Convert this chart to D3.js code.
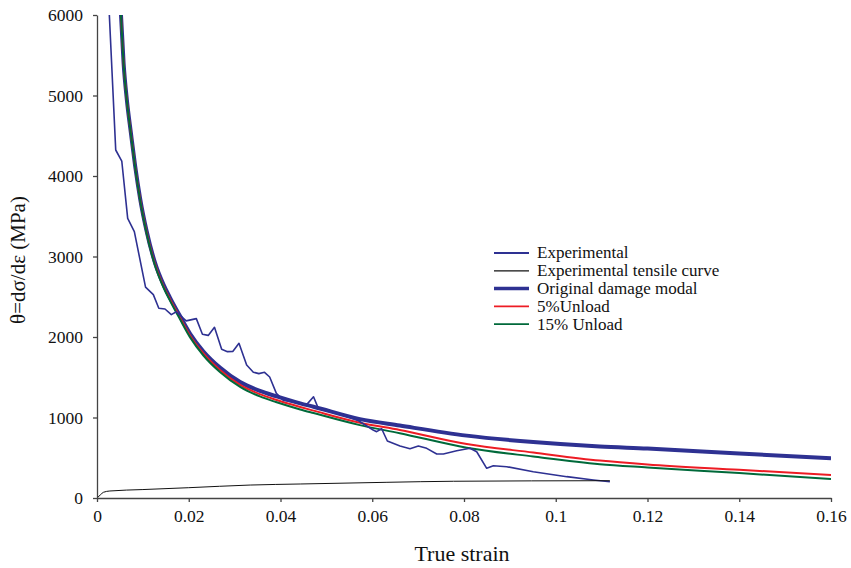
<!DOCTYPE html>
<html>
<head>
<meta charset="utf-8">
<script src="https://cdn.jsdelivr.net/npm/d3@7"></script>
<style>
  body { margin: 0; background: #fff; }
  svg text { font-family: 'Liberation Serif', 'Times New Roman', serif; fill: #111; }
</style>
</head>
<body>
<script>
// strain values and theta (MPa)
var expStrain = [0.00269,0.00408,0.0054,0.00669,0.00814,0.01058,0.01228,0.01347,0.01482,0.01620,0.01729,0.01943,0.02165,0.02298,0.02425,0.02561,0.02717,0.02844,0.02964,0.03095,0.03262,0.03408,0.03528,0.03652,0.03764,0.03910,0.0406,0.0457,0.0472,0.04824,0.053,0.057,0.0602,0.06096,0.06205,0.06329,0.06605,0.06823,0.07005,0.07187,0.07405,0.0755,0.07841,0.08131,0.08277,0.08495,0.0864,0.0893,0.0951,0.1024,0.1082,0.1118];
var expTheta  = [6000,4323,4186,3474,3308,2620,2526,2357,2348,2278,2314,2200,2228,2035,2020,2120,1847,1818,1822,1922,1652,1563,1545,1561,1503,1300,1215,1160,1258,1114,1040,960,845,824,860,708,645,612,645,617,547,547,588,617,575,369,401,389,327,265,224,202];

var tenStrain = [0,0.0007,0.0014,0.0028,0.01,0.02,0.0334,0.0443,0.0632,0.0777,0.1118];
var tenTheta  = [0,37,71,87,105,128,161,174,195,208,215];

var modStrain = [0.00523,0.0058,0.0065,0.0074,0.0083,0.0094,0.0108,0.0126,0.0145,0.0159,0.0181,0.0203,0.0232,0.0268,0.0312,0.0355,0.039,0.0443,0.0472,0.0573,0.066,0.0806,0.0951,0.1096,0.12,0.14,0.16];
var origTheta  = [6000,5400,4950,4530,4130,3720,3320,2930,2650,2490,2260,2040,1820,1620,1440,1330,1265,1176,1134,980,900,775,695,640,615,552,494];
var unload5    = [6000,5395,4945,4522,4120,3708,3305,2912,2630,2470,2240,2015,1795,1590,1405,1290,1220,1130,1085,935,845,670,565,465,416,350,285];
var unload15   = [6000,5390,4940,4515,4112,3698,3292,2898,2615,2452,2220,1995,1770,1565,1380,1262,1192,1100,1055,905,805,625,515,420,380,310,236];

var seriesNames = ["Experimental","Experimental tensile curve","Original damage modal","5%Unload","15% Unload"];
var seriesColors = ["#2e3192","#111111","#2e3192","#ed1c24","#00693a"];
var seriesWidths = [1.6,1,4,2,2];

var xTicks = [0,0.02,0.04,0.06,0.08,0.1,0.12,0.14,0.16];
var yTicks = [0,1000,2000,3000,4000,5000,6000];

var width = 851, height = 568;
var margin = {left: 97, right: 20, top: 15, bottom: 70};
var serif = "'Liberation Serif', 'Times New Roman', serif";

var svg = d3.select("body").append("svg")
  .attr("width", width).attr("height", height);

var x = d3.scaleLinear().domain([0, 0.16]).range([margin.left, 831]);
var y = d3.scaleLinear().domain([0, 6000]).range([498, margin.top]);

svg.append("clipPath").attr("id", "plotclip")
  .append("rect")
  .attr("x", margin.left).attr("y", margin.top)
  .attr("width", 831 - margin.left).attr("height", 498 - margin.top);

function pairs(xs, ys){
  return xs.map(function(v, i){ return [v, ys[i]]; });
}

var smooth = d3.line()
  .x(function(d){ return x(d[0]); })
  .y(function(d){ return y(d[1]); })
  .curve(d3.curveMonotoneX);
var straight = d3.line()
  .x(function(d){ return x(d[0]); })
  .y(function(d){ return y(d[1]); });

var plot = svg.append("g").attr("clip-path", "url(#plotclip)");

// draw order: thick model, unload curves, then the experimental lines
plot.append("path").datum(pairs(modStrain, origTheta))
  .attr("d", smooth).attr("fill", "none")
  .attr("stroke", seriesColors[2]).attr("stroke-width", seriesWidths[2]);
plot.append("path").datum(pairs(modStrain, unload5))
  .attr("d", smooth).attr("fill", "none")
  .attr("stroke", seriesColors[3]).attr("stroke-width", seriesWidths[3]);
plot.append("path").datum(pairs(modStrain, unload15))
  .attr("d", smooth).attr("fill", "none")
  .attr("stroke", seriesColors[4]).attr("stroke-width", seriesWidths[4]);
plot.append("path").datum(pairs(expStrain, expTheta))
  .attr("d", straight).attr("fill", "none")
  .attr("stroke", seriesColors[0]).attr("stroke-width", seriesWidths[0])
  .attr("stroke-linejoin", "round");
plot.append("path").datum(pairs(tenStrain, tenTheta))
  .attr("d", smooth).attr("fill", "none")
  .attr("stroke", seriesColors[1]).attr("stroke-width", seriesWidths[1]);

// axes
var xAxis = svg.append("g").attr("transform", "translate(0,498)")
  .call(d3.axisBottom(x).tickValues(xTicks).tickSize(4).tickSizeOuter(0).tickPadding(8)
    .tickFormat(function(d){ return String(+d.toFixed(2)); }));
var yAxis = svg.append("g").attr("transform", "translate(" + margin.left + ",0)")
  .call(d3.axisLeft(y).tickValues(yTicks).tickSize(4).tickSizeOuter(0).tickPadding(10)
    .tickFormat(d3.format("d")));

[xAxis, yAxis].forEach(function(a){
  a.attr("font-family", serif).attr("font-size", 17.5);
  a.select(".domain").attr("stroke", "#444").attr("stroke-width", 1.3);
  a.selectAll(".tick line").attr("stroke", "#444").attr("stroke-width", 1.3);
  a.selectAll(".tick text").attr("fill", "#111");
});

svg.append("text")
  .attr("x", 462).attr("y", 561)
  .attr("text-anchor", "middle")
  .attr("font-family", serif)
  .attr("font-size", 22)
  .text("True strain");

svg.append("text")
  .attr("transform", "translate(25,260) rotate(-90)")
  .attr("text-anchor", "middle")
  .attr("font-family", serif)
  .attr("font-size", 21)
  .text("θ=dσ/dε (MPa)");

// legend
var legend = svg.append("g").attr("transform", "translate(494,253)")
  .attr("font-family", serif).attr("font-size", 17);
seriesNames.forEach(function(name, i){
  var row = legend.append("g").attr("transform", "translate(0," + (i * 17.8) + ")");
  row.append("line").attr("x1", 0).attr("x2", 35).attr("y1", 0).attr("y2", 0)
    .attr("stroke", seriesColors[i]).attr("stroke-width", i == 2 ? 3.5 : (i == 1 ? 1.2 : 1.8));
  row.append("text").attr("x", 43).attr("y", 0).attr("dy", "0.32em")
    .text(name);
});
</script>
</body>
</html>
